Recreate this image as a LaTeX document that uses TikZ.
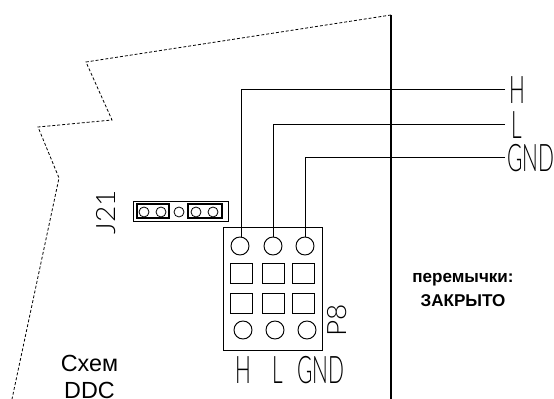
\documentclass[tikz,border=0pt]{standalone}
\usepackage{fontspec}
\setmainfont{Liberation Sans}
\newfontfamily\cadfont{Lato Light}
\tikzset{
  pin/.style={draw, circle, inner sep=0pt, minimum size=13.5pt, line width=0.7pt},
  pad/.style={draw, rectangle, inner sep=0pt, minimum width=17pt, minimum height=15pt, line width=0.7pt},
  jpin/.style={draw, circle, inner sep=0pt, minimum size=7.5pt, line width=0.6pt},
  cadtext/.style={inner sep=0pt, font=\cadfont\fontsize{28.5}{28.5}\selectfont, xscale=0.55, transform shape},
  cadside/.style={inner sep=0pt, rotate=90, font=\cadfont\fontsize{20}{20}\selectfont, xscale=1.05, transform shape},
  wire/.style={line width=0.75pt},
}
\begin{document}
\begin{tikzpicture}[x=0.75pt, y=-0.75pt]
\useasboundingbox (0,0) rectangle (554,399);

% Board outline
\coordinate (o0) at (391,15);
\coordinate (o1) at (86,62);
\coordinate (o2) at (112,120);
\coordinate (o3) at (38,127);
\coordinate (o4) at (59,178);
\coordinate (o5) at (12,399);
\draw [line width=0.6pt, dash pattern=on 2.2pt off 1.5pt] (o0) -- (o1) -- (o2) -- (o3) -- (o4) -- (o5);

% Wall
\coordinate (w0) at (391,15);
\coordinate (w1) at (391,399);
\draw [line width=1.3pt] (w0) -- (w1);

% Connector P8
\node (p8) [draw, rectangle, inner sep=0pt, minimum width=74.25pt, minimum height=92.25pt, line width=0.7pt] at (272.5,288.5) {};
\node (a1) [pin] at (240,246) {};
\node (a2) [pin] at (273,246) {};
\node (a3) [pin] at (305,246) {};
\node (b1) [pad] at (241.5,273) {};
\node (b2) [pad] at (273.5,273) {};
\node (b3) [pad] at (303.5,273) {};
\node (c1) [pad] at (241.5,303) {};
\node (c2) [pad] at (273.5,303) {};
\node (c3) [pad] at (303.5,303) {};
\node (d1) [pin] at (243,330) {};
\node (d2) [pin] at (275,330) {};
\node (d3) [pin] at (307,330) {};

% Wires
\coordinate (hend) at (505,90);
\coordinate (lend) at (505,125);
\coordinate (gend) at (505,158);
\draw [wire] (hend) -| (a1.80);
\draw [wire] (lend) -| (a2.north);
\draw [wire] (gend) -| (a3.85);

% Jumper J21
\node (j21) [draw, rectangle, inner sep=0pt, minimum width=71.25pt, minimum height=15pt, line width=0.7pt] at (180.5,211) {};
\node (k1) [draw, rectangle, inner sep=0pt, minimum width=24pt, minimum height=10.5pt, line width=1.4pt] at (153,211) {};
\node (k2) [draw, rectangle, inner sep=0pt, minimum width=25.5pt, minimum height=10.5pt, line width=1.4pt] at (205,211) {};
\node (s1) [jpin] at (144,212) {};
\node (s2) [jpin] at (161,212) {};
\node (s3) [jpin] at (179,212) {};
\node (s4) [jpin] at (196,212) {};
\node (s5) [jpin] at (213,212) {};

% CAD labels
\node (th) [cadtext] at (517,90) {H};
\node (tl) [cadtext] at (517,125) {L};
\node (tg) [cadtext] at (531,158) {GND};
\node (bh) [cadtext] at (243,370) {H};
\node (bl) [cadtext] at (278,370) {L};
\node (bg) [cadtext] at (321,370) {GND};
\node (tj) [cadside] at (106,212) {J21};
\node (tp) [cadside] at (337,320) {P8};

% Notes
\node (n1) [inner sep=0pt, align=center, font=\bfseries\fontsize{12.8}{18}\selectfont] at (463,290) {перемычки:\\ЗАКРЫТО};
\node (n2) [inner sep=0pt, align=center, font=\fontsize{17.5}{20.5}\selectfont] at (89.5,377) {Схем\\DDC};
\end{tikzpicture}
\end{document}
